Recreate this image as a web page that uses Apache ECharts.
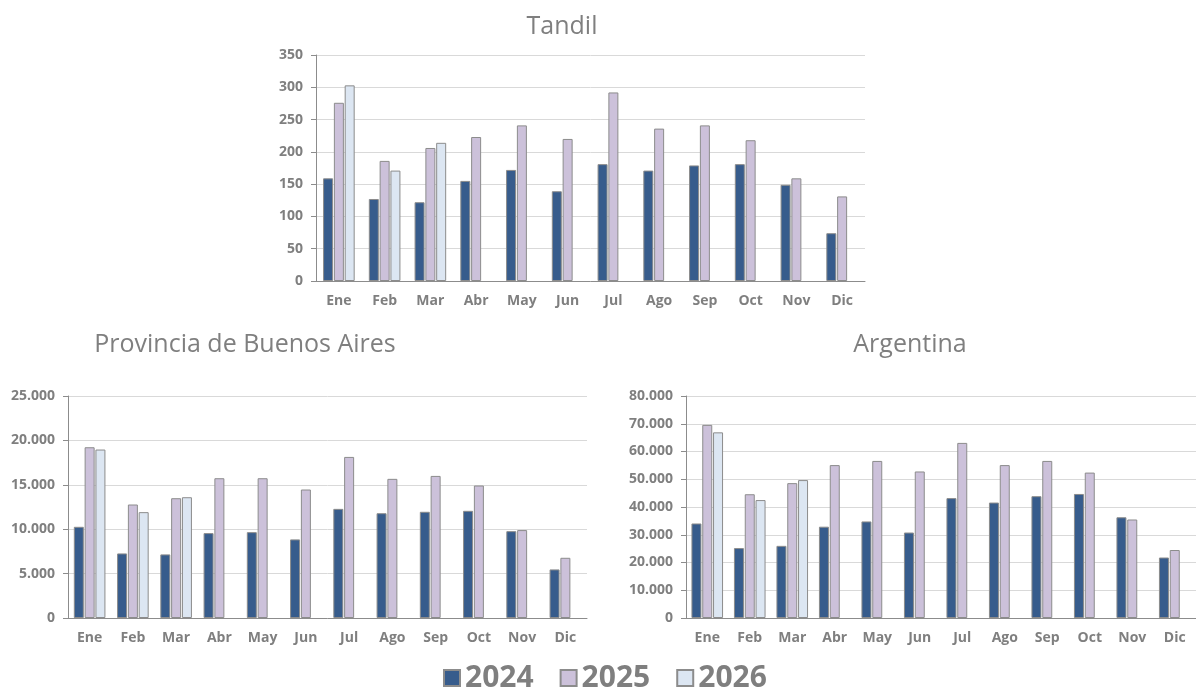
<!DOCTYPE html>
<html>
<head>
<meta charset="utf-8">
<script src="https://cdn.jsdelivr.net/npm/echarts@6/dist/echarts.min.js"></script>
<style>
html,body{margin:0;padding:0;background:#fff;}
#c{width:1196px;height:694px;}
</style>
</head>
<body>
<div id="c"></div>
<script>
const months = ['Ene','Feb','Mar','Abr','May','Jun','Jul','Ago','Sep','Oct','Nov','Dic'];
const years = ['2024','2025','2026'];

const tandil2024 = [159,127,122,155,172,139,181,171,179,181,149,74];
const tandil2025 = [276,186,206,223,241,220,292,236,241,218,159,131];
const tandil2026 = [303,171,214,'-','-','-','-','-','-','-','-','-'];

const pba2024 = [10270,7270,7160,9560,9670,8850,12290,11800,11960,12070,9780,5470];
const pba2025 = [19230,12780,13490,15740,15740,14470,18140,15670,16000,14920,9900,6780];
const pba2026 = [18970,11920,13600,'-','-','-','-','-','-','-','-','-'];

const arg2024 = [34060,25200,26000,32900,34800,30800,43200,41600,43900,44700,36300,21800];
const arg2025 = [69600,44600,48600,55100,56600,52800,63100,55100,56600,52400,35500,24500];
const arg2026 = [66900,42500,49700,'-','-','-','-','-','-','-','-','-'];

const titles = ['Tandil','Provincia de Buenos Aires','Argentina'];

const colors = ['#375C8C','#CCC1DA','#DCE6F2'];
const gray = '#7f7f7f';
const fontFam = '"Open Sans", "Liberation Sans", sans-serif';

function fmt(v){ return String(v).replace(/\B(?=(\d{3})+(?!\d))/g,'.'); }

const grids = [
  {left:316, top:55, width:549, height:226},
  {left:68, top:396, width:519, height:222},
  {left:686, top:396, width:520, height:222}
];
const yMax = [350, 25000, 80000];
const yInt = [50, 5000, 10000];
const dataSets = [
  [tandil2024, tandil2025, tandil2026],
  [pba2024, pba2025, pba2026],
  [arg2024, arg2025, arg2026]
];

const xAxis = [], yAxis = [], series = [];
for (let i = 0; i < 3; i++) {
  xAxis.push({
    type:'category', gridIndex:i, data:months,
    axisLine:{lineStyle:{color:'#8c8c8c', width:1}},
    axisTick:{show:false},
    axisLabel:{color:gray, fontSize:14, fontWeight:'bold', fontFamily:fontFam, margin:13, interval:0}
  });
  yAxis.push({
    type:'value', gridIndex:i, min:0, max:yMax[i], interval:yInt[i],
    axisLine:{show:true, lineStyle:{color:'#8c8c8c', width:1}},
    axisTick:{show:true, length:5, lineStyle:{color:'#8c8c8c'}},
    splitLine:{lineStyle:{color:'#d9d9d9', width:1}},
    axisLabel:{color:gray, fontSize:14, fontWeight:'bold', fontFamily:fontFam, margin:13, formatter:fmt}
  });
  for (let s = 0; s < 3; s++) {
    series.push({
      type:'bar', name:years[s], xAxisIndex:i, yAxisIndex:i,
      data:dataSets[i][s], barWidth:10, barGap:'8%',
      itemStyle:{color:colors[s], borderColor:'#8c8c8c', borderWidth:1},
      emphasis:{disabled:true}, animation:false
    });
  }
}

const chart = echarts.init(document.getElementById('c'), null, {renderer:'canvas'});
chart.setOption({
  animation:false,
  grid:grids,
  xAxis:xAxis,
  yAxis:yAxis,
  series:series,
  legend:{
    data:years, left:443, top:663, padding:0,
    itemWidth:16, itemHeight:16, itemGap:26, icon:'rect',
    textStyle:{color:gray, fontSize:30, fontWeight:'bold', fontFamily:fontFam}
  },
  graphic:[
    {type:'text', x:562, y:27, style:{text:titles[0], textAlign:'center', textVerticalAlign:'middle', fill:gray, fontSize:25, fontFamily:fontFam}},
    {type:'text', x:245, y:345, style:{text:titles[1], textAlign:'center', textVerticalAlign:'middle', fill:gray, fontSize:25, fontFamily:fontFam}},
    {type:'text', x:910, y:345, style:{text:titles[2], textAlign:'center', textVerticalAlign:'middle', fill:gray, fontSize:25, fontFamily:fontFam}}
  ]
});
</script>
</body>
</html>
